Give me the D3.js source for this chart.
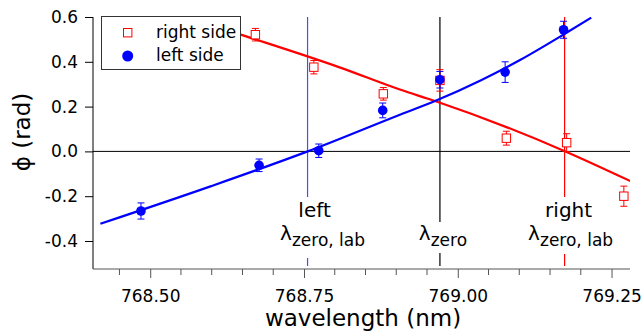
<!DOCTYPE html>
<html>
<head>
<meta charset="utf-8">
<script src="https://cdn.jsdelivr.net/npm/d3@7"></script>
<style>
    body { margin: 0; background: #fff; }
    svg { display: block; font-family: "DejaVu Sans", sans-serif; }
</style>
</head>
<body>
<svg id="chart" width="644" height="334"></svg>
<script>
// measured points, left side (blue circles)
var leftWl = [768.485, 768.677, 768.774, 768.878, 768.971, 769.077, 769.172];
var leftPhi = [-0.266, -0.062, 0.003, 0.183, 0.320, 0.354, 0.543];
var leftErr = [0.036, 0.028, 0.030, 0.033, 0.037, 0.046, 0.038];

// measured points, right side (red squares)
var rightWl = [768.671, 768.766, 768.879, 768.971, 769.079, 769.177, 769.270];
var rightPhi = [0.521, 0.376, 0.257, 0.317, 0.059, 0.039, -0.200];
var rightErr = [0.028, 0.030, 0.028, 0.048, 0.031, 0.040, 0.045];

// fit curves
var leftFitWl = [768.419, 768.598, 768.756, 768.907, 768.963, 769.037, 769.102, 769.174, 769.217];
var leftFitPhi = [-0.323, -0.156, 0.0, 0.165, 0.225, 0.317, 0.409, 0.525, 0.597];
var rightFitWl = [768.41, 768.651, 768.809, 768.907, 768.963, 769.175, 769.281];
var rightFitPhi = [0.73, 0.518, 0.374, 0.275, 0.225, 0.0, -0.133];

// zero-crossing markers
var markerWl = [768.7558, 768.971, 769.1737];
var markerColor = ["#4b4bf0", "#000", "#ff0000"];
var markerTop = ["left", null, "right"];
var markerSub = ["zero, lab", "zero", "zero, lab"];

var xTicks = [768.50, 768.75, 769.00, 769.25];
var xMinor = d3.range(768.45, 769.26, 0.05);
var yTicks = [-0.4, -0.2, 0.0, 0.2, 0.4, 0.6];

(function () {
    "use strict";

    var svg = d3.select("#chart"),
        plotL = 93, plotR = 630, plotT = 17, plotB = 269;

    var x = d3.scaleLinear().domain([768.407, 769.28]).range([plotL, plotR]);
    var y = d3.scaleLinear().domain([-0.525, 0.6]).range([plotB, plotT]);

    svg.append("clipPath").attr("id", "plot")
        .append("rect").attr("x", plotL).attr("y", plotT)
        .attr("width", plotR - plotL).attr("height", plotB - plotT);

    // zero line
    svg.append("line")
        .attr("x1", plotL).attr("x2", plotR)
        .attr("y1", y(0)).attr("y2", y(0))
        .attr("stroke", "#000").attr("stroke-width", 1);

    // vertical marker lines
    markerWl.forEach(function (wl, i) {
        svg.append("line")
            .attr("x1", x(wl)).attr("x2", x(wl))
            .attr("y1", plotT).attr("y2", 266)
            .attr("stroke", markerColor[i]).attr("stroke-width", 1.2);
    });

    // annotation boxes (opaque, they cover the marker lines)
    var annoBox = [[278, 197, 89, 61], [415, 222, 54, 31], [526, 197, 89, 57]];
    var annoDx = [[7, 15], [0, 3], [4, 6]];
    markerWl.forEach(function (wl, i) {
        var b = annoBox[i], cx = x(wl), t;
        svg.append("rect")
            .attr("x", b[0]).attr("y", b[1]).attr("width", b[2]).attr("height", b[3])
            .attr("fill", "#fff");
        if (markerTop[i]) {
            svg.append("text")
                .attr("x", cx + annoDx[i][0]).attr("y", 217)
                .attr("text-anchor", "middle").attr("font-size", 20)
                .text(markerTop[i]);
        }
        t = svg.append("text")
            .attr("x", cx + annoDx[i][1]).attr("y", 240)
            .attr("text-anchor", "middle").attr("font-size", 20);
        t.append("tspan").text("λ");
        t.append("tspan").attr("dy", 6).attr("font-size", 17).text(markerSub[i]);
    });

    // fit curves
    var line = d3.line()
        .x(function (d) { return x(d[0]); })
        .y(function (d) { return y(d[1]); })
        .curve(d3.curveMonotoneX);

    svg.append("path")
        .datum(d3.zip(rightFitWl, rightFitPhi))
        .attr("clip-path", "url(#plot)")
        .attr("d", line).attr("fill", "none")
        .attr("stroke", "#ff0000").attr("stroke-width", 2.2);

    svg.append("path")
        .datum(d3.zip(leftFitWl, leftFitPhi))
        .attr("clip-path", "url(#plot)")
        .attr("d", line).attr("fill", "none")
        .attr("stroke", "#0000ff").attr("stroke-width", 2.2);

    // error bars
    function errorBars(wl, phi, err, color) {
        var g = svg.append("g").attr("stroke", color).attr("stroke-width", 1);
        wl.forEach(function (w, i) {
            var cx = x(w), y1 = y(phi[i] + err[i]), y2 = y(phi[i] - err[i]);
            g.append("line").attr("x1", cx).attr("x2", cx).attr("y1", y1).attr("y2", y2);
            g.append("line").attr("x1", cx - 3.5).attr("x2", cx + 3.5).attr("y1", y1).attr("y2", y1);
            g.append("line").attr("x1", cx - 3.5).attr("x2", cx + 3.5).attr("y1", y2).attr("y2", y2);
        });
    }

    errorBars(rightWl, rightPhi, rightErr, "#ff0000");
    svg.append("g").selectAll("rect")
        .data(d3.zip(rightWl, rightPhi))
        .join("rect")
        .attr("x", function (d) { return x(d[0]) - 4.2; })
        .attr("y", function (d) { return y(d[1]) - 4.2; })
        .attr("width", 8.4).attr("height", 8.4)
        .attr("fill", "#fff").attr("stroke", "#ff0000").attr("stroke-width", 1);

    errorBars(leftWl, leftPhi, leftErr, "#0000ff");
    svg.append("g").selectAll("circle")
        .data(d3.zip(leftWl, leftPhi))
        .join("circle")
        .attr("cx", function (d) { return x(d[0]); })
        .attr("cy", function (d) { return y(d[1]); })
        .attr("r", 4.8).attr("fill", "#0000ff");

    // axes
    var yAxis = svg.append("g").attr("transform", "translate(" + plotL + ",0)")
        .call(d3.axisLeft(y).tickValues(yTicks).tickSize(8).tickPadding(7)
            .tickFormat(function (d) { return d.toFixed(1); }));
    yAxis.select(".domain").attr("d", "M0," + plotT + "V" + plotB).attr("stroke", "#000");
    yAxis.selectAll("text").attr("font-size", 17).attr("font-family", "DejaVu Sans").attr("fill", "#000");

    var xAxis = svg.append("g").attr("transform", "translate(0," + plotB + ")")
        .call(d3.axisBottom(x).tickValues(xTicks).tickSize(9).tickPadding(12)
            .tickFormat(d3.format(".2f")));
    xAxis.select(".domain").attr("d", "M" + plotL + ",0H" + plotR).attr("stroke", "#555");
    xAxis.selectAll(".tick line").attr("stroke", "#555");
    xAxis.selectAll("text").attr("font-size", 17).attr("font-family", "DejaVu Sans").attr("fill", "#000");
    xAxis.append("g").selectAll("line")
        .data(xMinor.filter(function (v) {
            return xTicks.every(function (t) { return Math.abs(t - v) > 0.01; });
        }))
        .join("line")
        .attr("x1", function (d) { return x(d); }).attr("x2", function (d) { return x(d); })
        .attr("y1", 0).attr("y2", 6).attr("stroke", "#555");

    // axis titles
    svg.append("text")
        .attr("x", 363).attr("y", 326)
        .attr("text-anchor", "middle").attr("font-size", 23)
        .text("wavelength (nm)");

    svg.append("text")
        .attr("transform", "translate(30,132) rotate(-90)")
        .attr("text-anchor", "middle").attr("font-size", 23)
        .text("ϕ (rad)");

    // legend
    var legend = svg.append("g");
    legend.append("rect")
        .attr("x", 101.5).attr("y", 16.5).attr("width", 139).attr("height", 53)
        .attr("fill", "#fff").attr("stroke", "#333").attr("stroke-width", 1);
    legend.append("rect")
        .attr("x", 123.5).attr("y", 28.5).attr("width", 8.4).attr("height", 8.4)
        .attr("fill", "#fff").attr("stroke", "#ff0000");
    legend.append("circle")
        .attr("cx", 127.7).attr("cy", 56).attr("r", 5.5).attr("fill", "#0000ff");
    legend.append("text").attr("x", 156).attr("y", 38).attr("font-size", 17).text("right side");
    legend.append("text").attr("x", 156).attr("y", 61).attr("font-size", 17).text("left side");
}());
</script>
</body>
</html>
